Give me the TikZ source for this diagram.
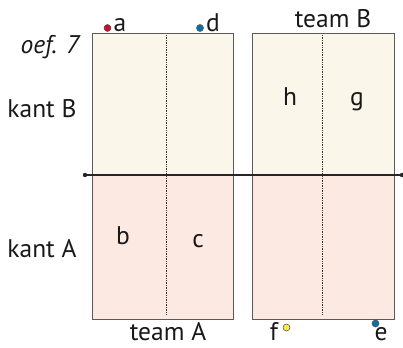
\documentclass[tikz,border=0pt]{standalone}
\usepackage{fontspec}
\setmainfont{PT Sans}
\definecolor{cream}{HTML}{FBF6EA}
\definecolor{pinkish}{HTML}{FCEAE2}
\definecolor{boxline}{HTML}{5A5A5A}
\definecolor{dred}{HTML}{C8102E}
\definecolor{dblue}{HTML}{0B6FAA}
\definecolor{dyellow}{HTML}{F7E94A}
\tikzset{
  half/.style={draw=boxline, line width=0.9pt},
  divider/.style={densely dotted, line width=0.7pt, black!80},
  lbl/.style={font=\fontsize{25.5}{28}\selectfont, text=black!90, inner sep=0pt},
  pt/.style={circle, inner sep=0pt, minimum size=7pt, draw=black!70, line width=0.5pt},
}
\begin{document}
\begin{tikzpicture}[x=1pt,y=-1pt]
\useasboundingbox (0,0) rectangle (403,347);
% left box
\path[fill=cream] (92,33) rectangle (233,175);
\path[fill=pinkish] (92,175) rectangle (233,319);
\draw[half] (92,33) rectangle (233,319);
% right box
\path[fill=cream] (252,33) rectangle (394,175);
\path[fill=pinkish] (252,175) rectangle (394,319);
\draw[half] (252,33) rectangle (394,319);
% dividers
\draw[divider] (166.5,35) -- (166.5,314);
\draw[divider] (322.5,35) -- (322.5,314);
% midline
\coordinate (ml) at (85,175);
\coordinate (mr) at (402,175);
\draw[line width=1.1pt, black!85] (ml) -- (mr);
\draw[line width=1.6pt, black!85] (92,175) -- (233,175);
\draw[line width=1.6pt, black!85] (252,175) -- (394,175);
\fill[black!85] (ml) circle (2.2pt);
\fill[black!85] (mr) circle (2.2pt);
% texts
\node[lbl, font=\fontsize{25.5}{28}\selectfont\itshape] (oef) at (50,47) {oef. 7};
\node[lbl] (kB) at (42,109) {kant B};
\node[lbl] (kA) at (42,249) {kant A};
\node[lbl] (tB) at (333,19) {team B};
\node[lbl] (tA) at (168,332) {team A};
\node[lbl] (h) at (290,97) {h};
\node[lbl] (g) at (357,102) {g};
\node[lbl] (b) at (123,236) {b};
\node[lbl] (c) at (198,241) {c};
\node[lbl] (a) at (120,25) {a};
\node[lbl] (d) at (213,23) {d};
\node[lbl] (f) at (274,331) {f};
\node[lbl] (e) at (381,334) {e};
% dots
\node[pt, fill=dred] (pa) at (107.5,28) {};
\node[pt, fill=dblue] (pd) at (200,28) {};
\node[pt, fill=dyellow] (pf) at (286.5,327.5) {};
\node[pt, fill=dblue] (pe) at (375.5,323.5) {};
\end{tikzpicture}
\end{document}
